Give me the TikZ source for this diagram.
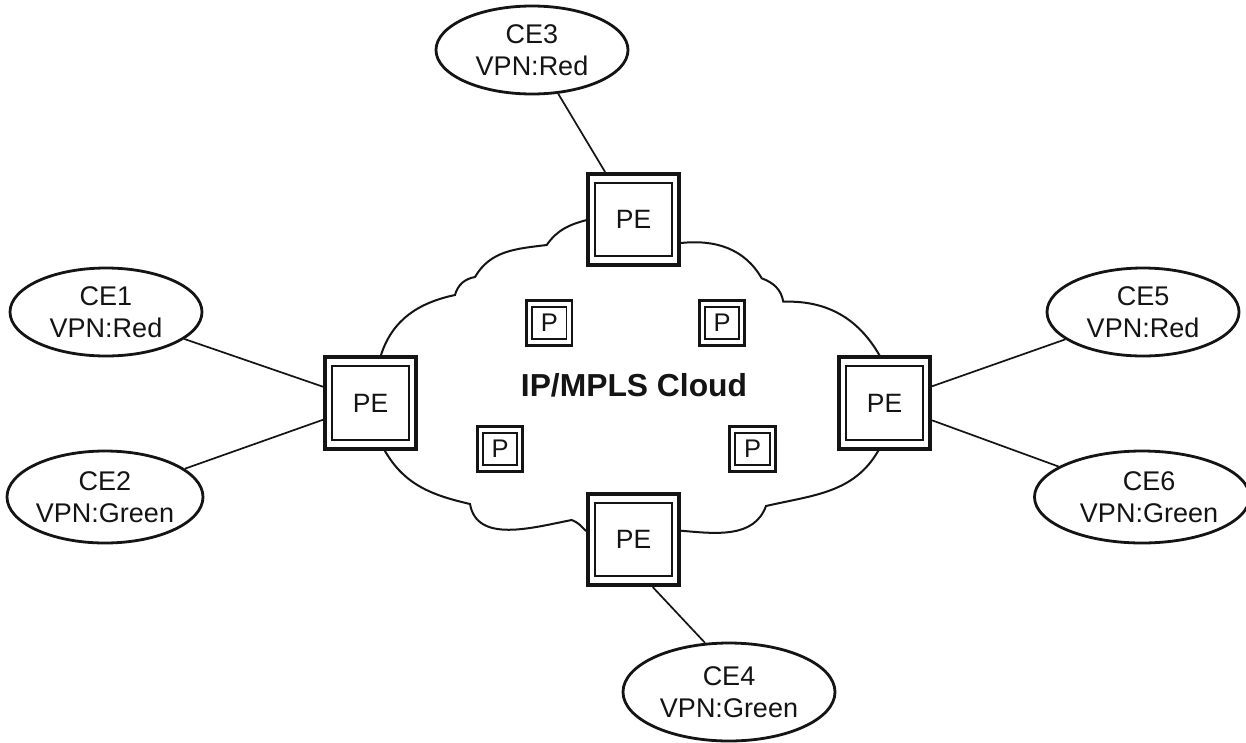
\documentclass[tikz,border=0pt]{standalone}
\usepackage{fontspec}
\setmainfont{Liberation Sans}
\usetikzlibrary{shapes.geometric}
\begin{document}
\begin{tikzpicture}[x=1pt,y=1pt,
  ink/.style={black!92},
  cloudline/.style={ink, line width=2pt},
  conn/.style={ink, line width=1.7pt},
  pebox/.style={draw, ink, line width=3.6pt, fill=white, minimum width=91.5pt, minimum height=91.5pt, inner sep=0pt,
    font=\fontsize{26.5}{30}\selectfont,
    path picture={\draw[ink, line width=2pt] ([xshift=7.5pt,yshift=-9pt]path picture bounding box.north west) rectangle ([xshift=-7.5pt,yshift=9pt]path picture bounding box.south east);}},
  pbox/.style={draw, ink, line width=2.6pt, fill=white, minimum width=45.5pt, minimum height=44.5pt, inner sep=0pt,
    font=\fontsize{25.5}{28}\selectfont,
    path picture={\draw[ink, line width=1.7pt] ([xshift=5.5pt,yshift=-6.5pt]path picture bounding box.north west) rectangle ([xshift=-5.5pt,yshift=6.5pt]path picture bounding box.south east);}},
  ceell/.style={draw, ink, ellipse, line width=2.8pt, inner sep=0pt, align=center, fill=white,
    font=\fontsize{27}{31.5}\selectfont},
  redell/.style={ceell, minimum width=192pt, minimum height=88pt},
  greenell/.style={ceell, minimum width=196pt, minimum height=92pt}
]
\useasboundingbox (0,0) rectangle (1246,-742);
\fill[white] (0,0) rectangle (1246,-742);

% cloud outline
\draw[cloudline] (681,-243) -- (586.7,-220)
  to[out=195,in=55] (546.7,-245)
  to[out=187,in=60] (475,-277)
  to[out=190,in=75] (455,-295)
  to[out=192,in=72] (381,-355)
  -- (385,-451)
  to[out=300,in=167] (470,-504)
  to[out=280,in=191] (571.7,-520)
  to[out=-20,in=135] (585.7,-530.7)
  -- (681,-530.7)
  to[out=-5,in=250] (766,-506)
  to[out=13,in=240] (878.3,-450.7)
  -- (879.3,-355)
  to[out=120,in=2] (783.3,-301.7)
  to[out=100,in=340] (761.7,-278.3)
  to[out=120,in=6] (681,-243)
  -- cycle;

\node[font=\fontsize{31.8}{36}\selectfont\bfseries, ink] (cloudlbl) at (634,-385) {IP/MPLS Cloud};

% PE routers
\node[pebox] (pe1) at (370.5,-403) {PE};
\node[pebox] (pe2) at (633.5,-219.5) {PE};
\node[pebox] (pe3) at (884.5,-403) {PE};
\node[pebox] (pe4) at (633.5,-539.5) {PE};

% P routers
\node[pbox] (p1) at (549.3,-323) {P};
\node[pbox] (p2) at (722,-323) {P};
\node[pbox] (p3) at (500,-449) {P};
\node[pbox] (p4) at (752.5,-449) {P};

% CE devices
\node[redell] (ce1) at (106,-312) {CE1\\VPN:Red};
\node[greenell] (ce2) at (105,-497) {CE2\\VPN:Green};
\node[redell] (ce3) at (532,-50) {CE3\\VPN:Red};
\node[greenell, minimum width=212pt, minimum height=98pt] (ce4) at (729,-692) {CE4\\VPN:Green};
\node[redell] (ce5) at (1143,-312) {CE5\\VPN:Red};
\node[greenell] (ce6) at (1142,-497) {\hspace*{14pt}CE6\\\hspace*{14pt}VPN:Green};

% connectors
\draw[conn] (ce1) -- (pe1);
\draw[conn] (ce2) -- (pe1);
\draw[conn] (ce3) -- (pe2);
\draw[conn] (ce5) -- (pe3);
\draw[conn] (ce6) -- (pe3);
\draw[conn] (pe4.-68.5) -- (ce4.116.6);
\end{tikzpicture}
\end{document}
